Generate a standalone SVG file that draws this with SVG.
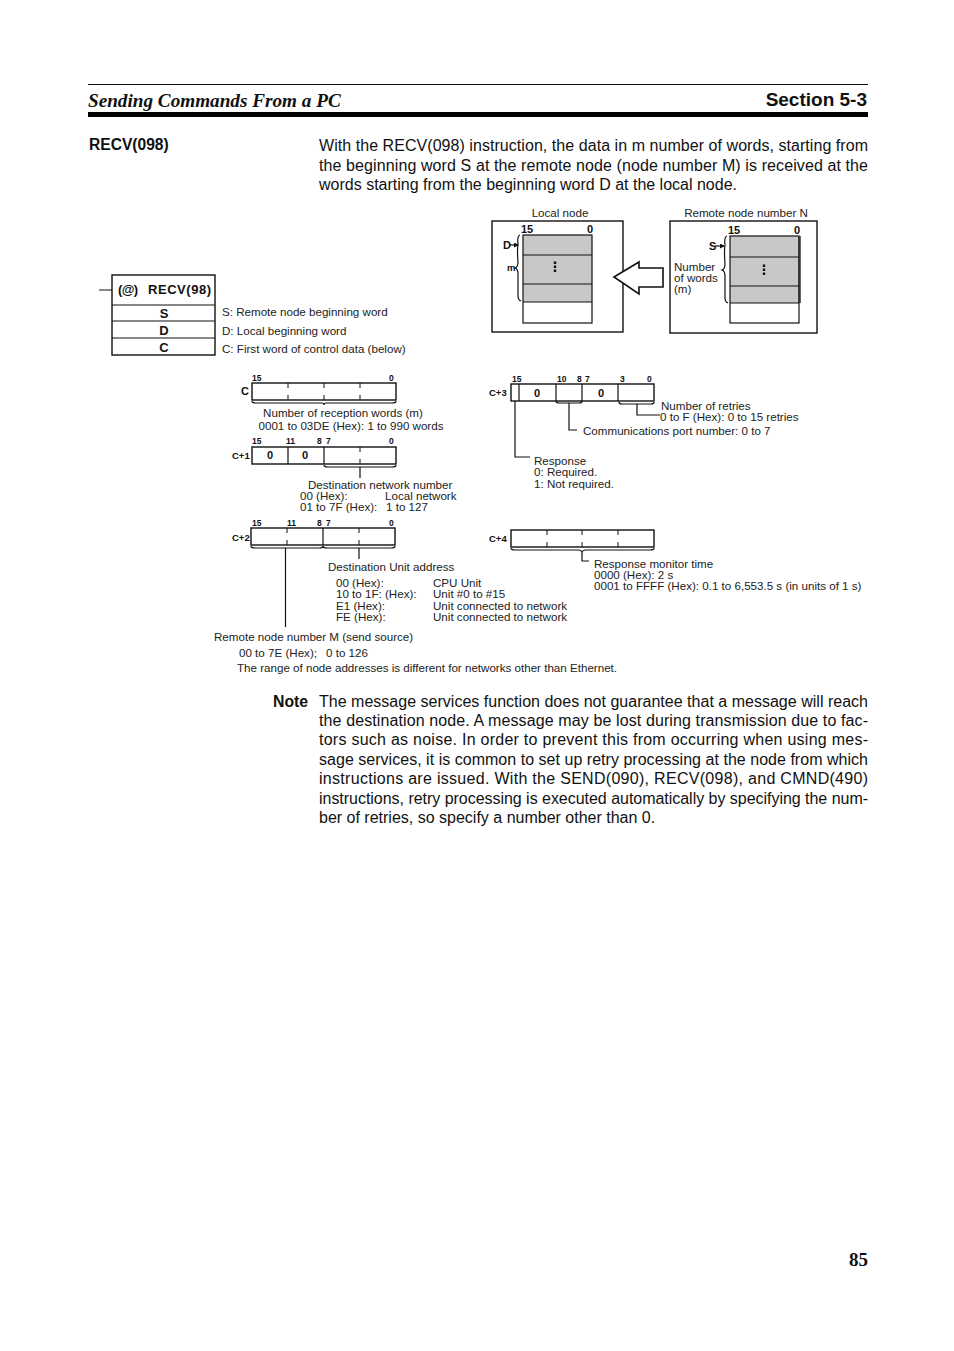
<svg xmlns="http://www.w3.org/2000/svg" width="954" height="1351" viewBox="0 0 954 1351">
<style>
text{font-family:"Liberation Sans",Arial,sans-serif;fill:#111}
.b{font-size:16px}
.s{font-size:11.6px;fill:#222}
.h{font-family:"Liberation Serif","Times New Roman",serif;font-weight:bold;font-style:italic;font-size:19.2px}
.m{font-weight:bold;font-size:8.5px}
.l{font-weight:bold;font-size:13px}
.t{font-weight:bold;font-size:11px}
.c{font-weight:bold;font-size:9.5px}
.k{fill:none;stroke:#111;stroke-width:1.2}
.f{fill:none;stroke:#111;stroke-width:1.4}
.g{fill:#c8c8c8;stroke:none}
.d{fill:none;stroke:#111;stroke-width:1;stroke-dasharray:5 7}
</style>
<defs>
<marker id="ah" markerWidth="5" markerHeight="5" refX="4" refY="2.500" orient="auto" markerUnits="userSpaceOnUse"><path d="M0 0L5 2.500L0 5Z" fill="#111"/></marker>
</defs>
<rect width="954" height="1351" fill="#fff"/>
<g id="header">
<rect x="88" y="84" width="780" height="1" fill="#111"/>
<rect x="88" y="112" width="780" height="5" fill="#000"/>
<text class="h" x="88" y="107">Sending Commands From a PC</text>
<text x="867" y="106" text-anchor="end" font-weight="bold" font-size="19">Section 5-3</text>
</g>
<g id="intro">
<text x="89" y="150" font-weight="bold" font-size="15.6">RECV(098)</text>
<text class="b" x="319" y="151" textLength="549">With the RECV(098) instruction, the data in m number of words, starting from</text>
<text class="b" x="319" y="171" textLength="549">the beginning word S at the remote node (node number M) is received at the</text>
<text class="b" x="319" y="190">words starting from the beginning word D at the local node.</text>
</g>
<g id="local-node">
<text class="s" x="560" y="217" text-anchor="middle">Local node</text>
<rect class="f" x="492" y="221" width="131" height="111"/>
<rect class="g" x="523" y="235" width="69" height="67"/>
<rect class="k" x="523" y="235" width="69" height="88"/>
<path class="k" d="M523 255H592M523 284H592M523 302H592"/>
<text class="t" x="521" y="233">15</text><text class="t" x="587" y="233">0</text>
<text class="t" x="503" y="249">D</text><text x="507" y="271" font-weight="bold" font-size="9.5">m</text>
<path class="k" d="M509 245H518" marker-end="url(#ah)"/>
<path class="k" d="M520 235Q517 236 518 244Q517 250 518 262Q518 267 515 268Q518 269 518 274V296Q518 300 521 301"/>
<path d="M555 261.500V273" stroke="#111" stroke-width="2.400" stroke-dasharray="2.500 1.500"/>
</g>
<g id="remote-node">
<text class="s" x="746" y="217" text-anchor="middle">Remote node number N</text>
<rect class="f" x="670" y="221" width="147" height="112"/>
<rect class="g" x="730" y="236" width="70" height="67"/>
<rect class="k" x="730" y="236" width="69" height="87"/>
<path d="M799.500 236V303" stroke="#333" stroke-width="2.500"/>
<path class="k" d="M730 257H799M730 286H799M730 303H799"/>
<text class="t" x="728" y="234">15</text><text class="t" x="794" y="234">0</text>
<text class="t" x="709" y="250">S</text>
<path class="k" d="M715 246H724" marker-end="url(#ah)"/>
<path class="k" d="M727 236Q724 237 725 245Q724 250 725 264Q725 269 722 270Q725 271 725 276V298Q725 302 728 303"/>
<path d="M764 264.500V275" stroke="#111" stroke-width="2.400" stroke-dasharray="2.500 1.500"/>
<text class="s" x="674" y="271">Number</text>
<text class="s" x="674" y="282">of words</text>
<text class="s" x="674" y="293">(m)</text>
</g>
<g id="transfer-arrow">
<path d="M614 277L639 262V268H663V287H639V294Z" fill="#fff" stroke="#111" stroke-width="1.600"/>
</g>
<g id="ladder">
<rect class="f" x="112" y="275" width="103" height="80"/>
<path class="k" d="M112 305H215M112 321H215M112 338H215M99 290H112"/>
<text class="l" x="118" y="294" textLength="20">(@)</text>
<text class="l" x="148" y="294" textLength="63">RECV(98)</text>
<text class="l" x="164" y="318" text-anchor="middle">S</text>
<text class="l" x="164" y="335" text-anchor="middle">D</text>
<text class="l" x="164" y="352" text-anchor="middle">C</text>
<text class="s" x="222" y="316">S: Remote node beginning word</text>
<text class="s" x="222" y="335">D: Local beginning word</text>
<text class="s" x="222" y="353">C: First word of control data (below)</text>
</g>
<g id="word-c">
<text class="m" x="252" y="381">15</text><text class="m" x="389" y="381">0</text>
<text class="t" x="241" y="395">C</text>
<rect class="f" x="252" y="383" width="144" height="17"/>
<path class="d" d="M288 383V400M324 383V400M360 383V400"/>
<text class="s" x="343" y="417" text-anchor="middle">Number of reception words (m)</text>
<text class="s" x="351" y="430" text-anchor="middle">0001 to 03DE (Hex): 1 to 990 words</text>
</g>
<g id="word-c1">
<text class="m" x="252" y="444">15</text><text class="m" x="286" y="444">11</text><text class="m" x="317" y="444">8</text><text class="m" x="326" y="444">7</text><text class="m" x="389" y="444">0</text>
<text class="c" x="232" y="459">C+1</text>
<rect class="f" x="252" y="447" width="144" height="17"/>
<path class="k" d="M288 447V464M324 447V464"/>
<path class="d" d="M360 447V464"/>
<text class="t" x="270" y="459" text-anchor="middle">0</text><text class="t" x="305" y="459" text-anchor="middle">0</text>
<text class="s" x="308" y="489">Destination network number</text>
<text class="s" x="300" y="500">00 (Hex):</text><text class="s" x="385" y="500">Local network</text>
<text class="s" x="300" y="511">01 to 7F (Hex):</text><text class="s" x="386" y="511">1 to 127</text>
</g>
<g id="word-c2">
<text class="m" x="252" y="526">15</text><text class="m" x="287" y="526">11</text><text class="m" x="317" y="526">8</text><text class="m" x="326" y="526">7</text><text class="m" x="389" y="526">0</text>
<text class="c" x="232" y="541">C+2</text>
<rect class="f" x="251" y="528" width="144" height="17"/>
<path class="k" d="M323 528V545"/>
<path class="d" d="M287 528V545M359 528V545"/>
<text class="s" x="328" y="571">Destination Unit address</text>
<text class="s" x="336" y="587">00 (Hex):</text><text class="s" x="433" y="587">CPU Unit</text>
<text class="s" x="336" y="598">10 to 1F: (Hex):</text><text class="s" x="433" y="598">Unit #0 to #15</text>
<text class="s" x="336" y="610">E1 (Hex):</text><text class="s" x="433" y="610">Unit connected to network</text>
<text class="s" x="336" y="621">FE (Hex):</text><text class="s" x="433" y="621">Unit connected to network</text>
<text class="s" x="214" y="641">Remote node number M (send source)</text>
<text class="s" x="239" y="657">00 to 7E (Hex);</text><text class="s" x="326" y="657">0 to 126</text>
<text class="s" x="237" y="672">The range of node addresses is different for networks other than Ethernet.</text>
</g>
<g id="word-c3">
<text class="m" x="512" y="382">15</text><text class="m" x="557" y="382">10</text><text class="m" x="577" y="382">8</text><text class="m" x="585" y="382">7</text><text class="m" x="620" y="382">3</text><text class="m" x="647" y="382">0</text>
<text class="c" x="489" y="396">C+3</text>
<rect class="f" x="511" y="384" width="143" height="17"/>
<path class="k" d="M519 384V401M556 384V401M582 384V401M618 384V401"/>
<text class="t" x="537" y="397" text-anchor="middle">0</text><text class="t" x="601" y="397" text-anchor="middle">0</text>
<text class="s" x="661" y="410">Number of retries</text>
<text class="s" x="660" y="421">0 to F (Hex): 0 to 15 retries</text>
<text class="s" x="583" y="435">Communications port number: 0 to 7</text>
<text class="s" x="534" y="465">Response</text>
<text class="s" x="534" y="476">0: Required.</text>
<text class="s" x="534" y="488">1: Not required.</text>
</g>
<g id="word-c4">
<text class="c" x="489" y="542">C+4</text>
<rect class="f" x="511" y="530" width="143" height="17"/>
<path class="d" d="M547 530V547M582 530V547M618 530V547"/>
<text class="s" x="594" y="568">Response monitor time</text>
<text class="s" x="594" y="579">0000 (Hex): 2 s</text>
<text class="s" x="594" y="590">0001 to FFFF (Hex): 0.1 to 6,553.5 s (in units of 1 s)</text>
</g>
<g id="connectors">
<path class="k" d="M252 401Q252 403 256 403H322Q324 403 324 405Q324 403 326 403H392Q396 403 396 401"/>
<path class="k" d="M324 465Q324 467 328 467H392Q396 467 396 465M360 467V478"/>
<path class="k" d="M251 546Q251 548 255 548H319Q323 548 323 546Q323 548 327 548H391Q395 548 395 546"/>
<path class="k" d="M285.500 548V627M359 548V559"/>
<path class="k" d="M556 401Q556 403 559 403H579Q582 403 582 401M569 403V430H577"/>
<path class="k" d="M619 402Q619 404 622 404H651Q654 404 654 402M637 404V415H660"/>
<path class="k" d="M515 401V457H530"/>
<path class="k" d="M511 548Q511 550 515 550H578Q582 550 582 553Q582 550 586 550H650Q654 550 654 548M582 553V561H589"/>
</g>
<g id="note">
<text x="273" y="707" font-weight="bold" font-size="15.800">Note</text>
<text class="b" x="319" y="707" textLength="549">The message services function does not guarantee that a message will reach</text>
<text class="b" x="319" y="726" textLength="549">the destination node. A message may be lost during transmission due to fac-</text>
<text class="b" x="319" y="745" textLength="549">tors such as noise. In order to prevent this from occurring when using mes-</text>
<text class="b" x="319" y="765" textLength="549">sage services, it is common to set up retry processing at the node from which</text>
<text class="b" x="319" y="784" textLength="549">instructions are issued. With the SEND(090), RECV(098), and CMND(490)</text>
<text class="b" x="319" y="804" textLength="549">instructions, retry processing is executed automatically by specifying the num-</text>
<text class="b" x="319" y="823">ber of retries, so specify a number other than 0.</text>
</g>
<g id="footer">
<text x="868" y="1266" text-anchor="end" font-weight="bold" font-size="19" style="font-family:'Liberation Serif',serif">85</text>
</g>
</svg>
